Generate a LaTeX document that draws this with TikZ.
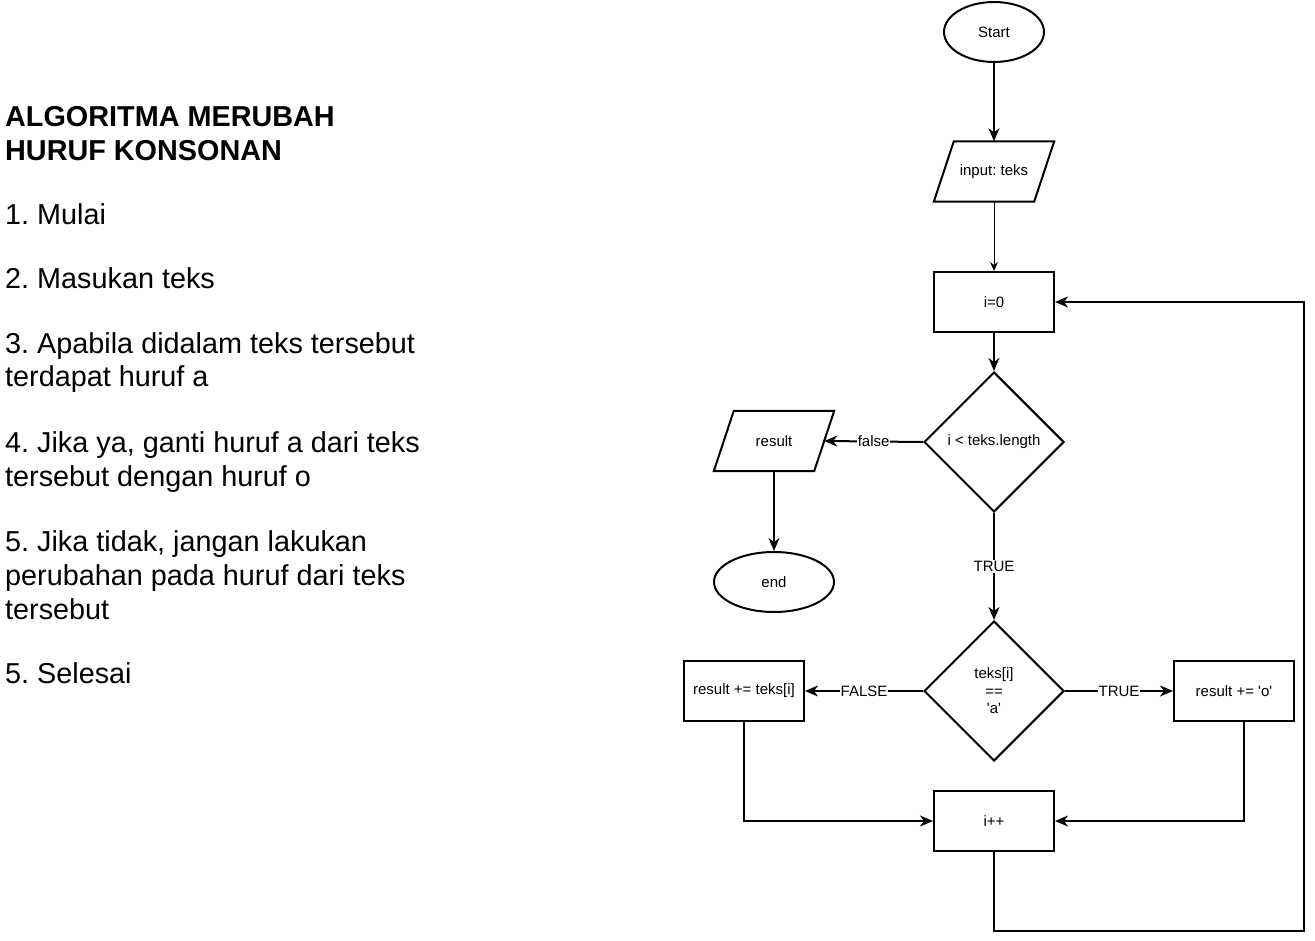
\documentclass[tikz,border=0pt]{standalone}
\usepackage{fontspec}
\setmainfont{Liberation Sans}
\usetikzlibrary{arrows.meta,shapes.geometric,calc}
\frenchspacing
\begin{document}
\begin{tikzpicture}[x=1pt,y=-1pt,
  every node/.style={font=\fontsize{15}{17.5}\selectfont, text=black},
  bord/.style={draw=black, line width=2pt},
  boxnode/.style={bord, rectangle, minimum width=120pt, minimum height=60pt, inner sep=0pt},
  paranode/.style={rectangle, minimum width=120pt, minimum height=60pt, inner sep=0pt},
  termnode/.style={bord, ellipse, minimum height=60pt, inner sep=0pt},
  decnode/.style={bord, diamond, minimum width=140pt, minimum height=140pt, inner sep=0pt, align=center},
  arr/.style={line width=2pt, -{Stealth[length=13pt,width=11pt,inset=4pt]}},
  thinarr/.style={line width=1pt, -{Stealth[length=9pt,width=8pt,inset=3pt]}},
  lbl/.style={fill=white, inner sep=1pt},
  lefttxt/.style={anchor=base west, inner sep=0pt, font=\fontsize{28.8}{34}\selectfont},
  titletxt/.style={lefttxt, font=\fontsize{28.8}{34}\selectfont\bfseries}
]
\useasboundingbox (0,0) rectangle (1315,941);
\fill[white] (0,0) rectangle (1315,941);

% left description
\node[titletxt] (t1) at (5,127) {ALGORITMA MERUBAH};
\node[titletxt] (t2) at (5,161) {HURUF KONSONAN};
\node[lefttxt] (t3) at (5,225) {1. Mulai};
\node[lefttxt] (t4) at (5,289) {2. Masukan teks};
\node[lefttxt] (t5) at (5,353) {3. Apabila didalam teks tersebut};
\node[lefttxt] (t6) at (5,387) {terdapat huruf a};
\node[lefttxt] (t7) at (5,452) {4. Jika ya, ganti huruf a dari teks};
\node[lefttxt] (t8) at (5,486) {tersebut dengan huruf o};
\node[lefttxt] (t9) at (5,551) {5. Jika tidak, jangan lakukan};
\node[lefttxt] (t10) at (5,585) {perubahan pada huruf dari teks};
\node[lefttxt] (t11) at (5,619) {tersebut};
\node[lefttxt] (t12) at (5,683) {5. Selesai};

% flowchart nodes
\node[termnode, minimum width=100pt] (start) at (994,32) {Start};
\node[paranode] (input) at (994,171.5) {input: teks};
\draw[bord] ($(input.north west)+(20,0)$) -- (input.north east) -- ($(input.south east)+(-20,0)$) -- (input.south west) -- cycle;
\node[boxnode] (i0) at (994,302) {i=0};
\node[decnode] (d1) at (994,442) {i < teks.length};
\node[paranode] (result) at (774,441) {result};
\draw[bord] ($(result.north west)+(20,0)$) -- (result.north east) -- ($(result.south east)+(-20,0)$) -- (result.south west) -- cycle;
\coordinate (resultR) at ($(result.east)+(-10,0)$);
\node[termnode, minimum width=120pt] (end) at (774,582) {end};
\node[decnode] (d2) at (994,691) {teks[i]\\==\\\textquotesingle a\textquotesingle};
\node[boxnode] (r1) at (744,691) {result += teks[i]};
\node[boxnode] (r2) at (1234,691) {result += \textquotesingle o\textquotesingle};
\node[boxnode] (inc) at (994,821) {i++};
\coordinate (loopA) at (994,931);
\coordinate (loopB) at (1304,931);

% connectors
\draw[arr] (start) -- (input);
\draw[thinarr] (input) -- (i0);
\draw[arr] (i0) -- (d1);
\draw[arr] (d1.west) -- node[lbl] {false} (resultR);
\draw[arr] (result.south) -- (end);
\draw[arr] (d1.south) -- node[lbl] {TRUE} (d2.north);
\draw[arr] (d2.west) -- node[lbl] {FALSE} (r1.east);
\draw[arr] (d2.east) -- node[lbl] {TRUE} (r2.west);
\draw[arr] (r1.south) |- (inc.west);
\draw[arr] ([xshift=10pt]r2.south) |- (inc.east);
\draw[arr] (inc.south) -- (loopA) -- (loopB) |- (i0.east);
\end{tikzpicture}
\end{document}
